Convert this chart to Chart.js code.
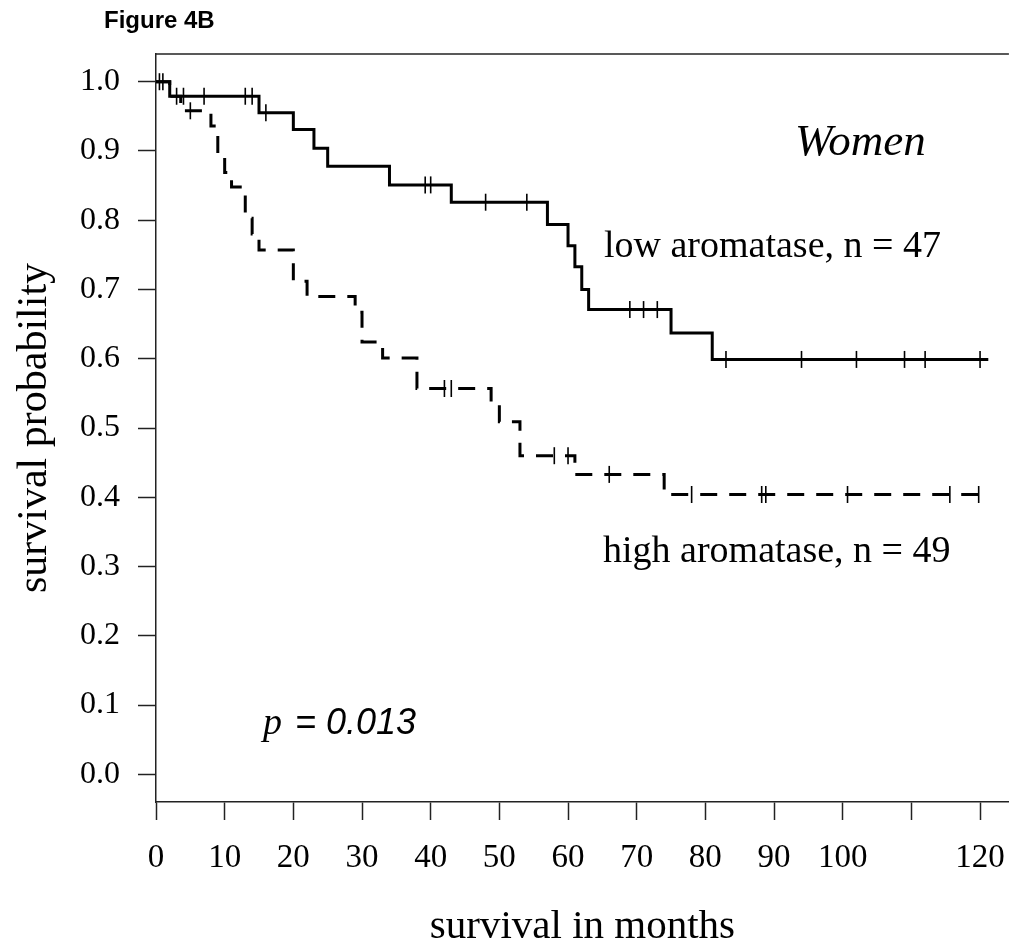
<!DOCTYPE html>
<html>
<head>
<meta charset="utf-8">
<script src="https://cdn.jsdelivr.net/npm/chart.js@4/dist/chart.umd.min.js"></script>
<style>
html,body{margin:0;padding:0;background:#fff;}
#wrap{width:1009px;height:948px;position:relative;overflow:hidden;}
</style>
</head>
<body>
<div id="wrap"><canvas id="chart" width="1019" height="948"></canvas></div>
<script>
// low aromatase (solid) - event times and survival after each step
const lowTimes=[0,2,15,20,23,25,34,43,57,60,61,62,63,75,81,121.2];
const lowSurv=[1,0.979,0.955,0.931,0.904,0.878,0.851,0.826,0.794,0.763,0.733,0.700,0.671,0.637,0.599,0.599];
const lowCensorTimes=[0.5,1,3,4,7,13,14,16,39.2,40,48,54,69,71,73,83,94,102,109,112,120];
const lowCensorSurv=[1,1,0.979,0.979,0.979,0.979,0.979,0.955,0.851,0.851,0.826,0.826,0.671,0.671,0.671,0.599,0.599,0.599,0.599,0.599,0.599];

// high aromatase (dashed)
const highTimes=[0,2,3.6,8,9,10,11,13,14,15,20,22,29,30,33,38,48.8,50,53,61,74,121.2];
const highSurv=[1,0.979,0.958,0.936,0.891,0.869,0.848,0.803,0.780,0.757,0.712,0.690,0.667,0.624,0.601,0.557,0.536,0.509,0.460,0.433,0.404,0.404];
const highCensorTimes=[5,42,43,58,60,66,78,88.2,88.8,100.7,115.6,119.8];
const highCensorSurv=[0.958,0.557,0.557,0.460,0.460,0.433,0.404,0.404,0.404,0.404,0.404,0.404];

const xTicks=[0,10,20,30,40,50,60,70,80,90,100,110,120];
const hiddenXTick=110;

const serif='"Liberation Serif","DejaVu Serif",serif';
const sans='"Liberation Sans",Arial,sans-serif';

function pts(xs,ys){
return xs.map((x,i)=>({x:x,y:ys[i]}));
}

const textPlugin={
id:'kmText',
afterDraw(c){
const ctx=c.ctx;
const a=c.chartArea;
ctx.save();
// top frame line
ctx.strokeStyle='#222';
ctx.lineWidth=1.5;
ctx.beginPath();
ctx.moveTo(a.left,a.top);
ctx.lineTo(a.right,a.top);
ctx.stroke();

ctx.fillStyle='#000';
ctx.textBaseline='alphabetic';
ctx.textAlign='left';

ctx.font='bold 24px '+sans;
ctx.fillText('Figure 4B',104,28);

ctx.font='italic 45px '+serif;
ctx.fillText('Women',795,155);

ctx.font='38px '+serif;
ctx.fillText('low aromatase, n = 47',604,257);
ctx.fillText('high aromatase, n = 49',603,562);

ctx.font='italic 38px '+serif;
ctx.fillText('p',263,734);
ctx.font='italic 36px '+sans;
ctx.fillText('= 0.013',295,734);
ctx.restore();
}
};

new Chart(document.getElementById('chart'),{
type:'line',
data:{
datasets:[
{
label:'low aromatase',
data:pts(lowTimes,lowSurv),
stepped:true,
borderColor:'#000',
borderWidth:3,
pointRadius:0,
fill:false
},
{
label:'high aromatase',
data:pts(highTimes,highSurv),
stepped:true,
borderColor:'#000',
borderWidth:3,
borderDash:[17,12],
pointRadius:0,
fill:false
},
{
label:'low censored',
data:pts(lowCensorTimes,lowCensorSurv),
showLine:false,
pointStyle:'line',
rotation:90,
pointRadius:8.5,
pointBorderWidth:1.6,
pointBorderColor:'#000',
borderColor:'#000'
},
{
label:'high censored',
data:pts(highCensorTimes,highCensorSurv),
showLine:false,
pointStyle:'line',
rotation:90,
pointRadius:8.5,
pointBorderWidth:1.6,
pointBorderColor:'#000',
borderColor:'#000'
}
]
},
options:{
responsive:false,
animation:false,
devicePixelRatio:1,
layout:{padding:{top:54,left:0,right:0,bottom:0}},
plugins:{
legend:{display:false},
tooltip:{enabled:false}
},
scales:{
x:{
type:'linear',
min:0,
max:124.2,
afterBuildTicks(s){s.ticks=xTicks.map(v=>({value:v}));},
afterFit(s){s.height=146;s.paddingLeft=0;s.paddingRight=0;},
ticks:{
autoSkip:false,
maxRotation:0,
padding:19,
color:'#000',
font:{family:serif,size:33},
callback:v=>v===hiddenXTick?'':v
},
grid:{display:true,drawOnChartArea:false,drawTicks:true,tickLength:18,tickWidth:1.5,tickColor:'#222'},
border:{display:true,color:'#222',width:1.5},
title:{display:true,text:'survival in months',color:'#000',font:{family:serif,size:41,lineHeight:1},padding:{top:0,bottom:0}}
},
y:{
min:-0.04,
max:1.04,
afterFit(s){s.width=156;s.paddingTop=0;s.paddingBottom=0;},
ticks:{
stepSize:0.1,
includeBounds:false,
padding:18,
color:'#000',
font:{family:serif,size:32},
callback:v=>v.toFixed(1)
},
grid:{display:true,drawOnChartArea:false,drawTicks:true,tickLength:18,tickWidth:1.5,tickColor:'#222'},
border:{display:true,color:'#222',width:1.5},
title:{display:true,text:'survival probability',color:'#000',font:{family:serif,size:42,lineHeight:1},padding:{top:14,bottom:0}}
}
}
},
plugins:[textPlugin]
});
</script>
</body>
</html>
